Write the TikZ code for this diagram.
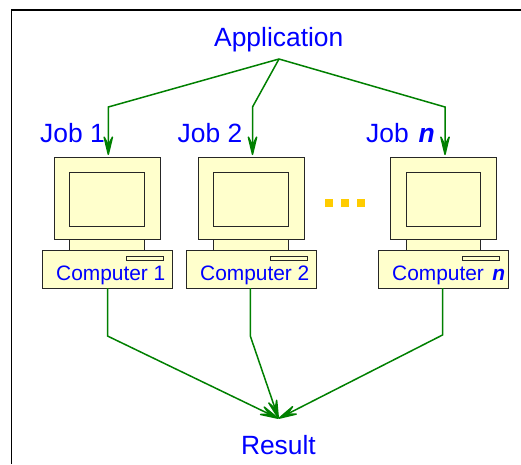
\documentclass[tikz,border=0pt]{standalone}
\usepackage{fontspec}
\setmainfont{Liberation Sans}
\usetikzlibrary{arrows.meta}
\definecolor{pale}{HTML}{FFFFCC}
\definecolor{wire}{HTML}{008000}
\definecolor{dotc}{HTML}{FFCC00}
\tikzset{
 part/.style={draw=black!85,fill=pale,line width=0.9pt,inner sep=0pt,outer sep=0pt,rectangle},
 big/.style={text=blue,font=\fontsize{26.4}{28}\selectfont,inner sep=0pt,anchor=base west},
 small/.style={text=blue,font=\fontsize{20.9}{23}\selectfont,inner sep=0pt,anchor=base west},
 wirel/.style={draw=wire,line width=1.5pt,line join=miter,-{Stealth[length=26pt,width=12.5pt,inset=12pt,round=false]}},
 dotsq/.style={fill=dotc,draw=none,minimum size=8pt,inner sep=0pt,rectangle},
}
\newcommand{\pc}[4]{% #1 suffix, #2 left of the base, #3 label, #4 label x
 \node[part,minimum width=74.3pt,minimum height=11.5pt] (neck#1) at (#2+65,244.5) {};
 \node[part,minimum width=106pt,minimum height=81.5pt] (mon#1) at (#2+65,198.5) {};
 \node[part,minimum width=74.3pt,minimum height=54pt] (scr#1) at (#2+65,199) {};
 \node[part,minimum width=130.4pt,minimum height=37.5pt] (base#1) at (#2+65.2,269.3) {};
 \node[part,minimum width=37.4pt,minimum height=4.6pt] (slot#1) at (#2+102.8,258.6) {};
 \node[small] (lab#1) at (#4,280.7) {#3};
}
\begin{document}
\begin{tikzpicture}[x=1pt,y=-1pt]
\useasboundingbox (0,0) rectangle (521,464);
\fill[white] (0,0) rectangle (521,464);
\coordinate (fa) at (11.5,464);
\coordinate (fb) at (11.5,10);
\coordinate (fc) at (521,10);
\draw[black,line width=1.6pt,line join=miter] (fa) -- (fb) -- (fc);
\pc{a}{42}{Computer 1}{56}
\pc{b}{186}{Computer 2}{200}
\pc{c}{378.3}{Computer\hspace{2.5pt} \textbf{\textit{n}}}{392}
\node[big] (app) at (214,46) {Application};
\node[big] (joba) at (40,142.5) {Job 1};
\node[big] (jobb) at (177.5,142.5) {Job 2};
\node[big] (jobc) at (366,142.5) {Job\hspace{2.5pt} \textbf{\textit{n}}};
\node[big] (res) at (240.8,454) {Result};
\node[dotsq] (d1) at (328.7,203) {};
\node[dotsq] (d2) at (345,203) {};
\node[dotsq] (d3) at (361,203) {};
\coordinate (top) at (279,59);
\coordinate (ka) at (108.3,107);
\coordinate (kb) at (252.5,107);
\coordinate (kc) at (445,107);
\coordinate (ia) at (108.3,155);
\coordinate (ib) at (252.5,155);
\coordinate (ic) at (445,155);
\coordinate (oa) at (107.5,288);
\coordinate (ob) at (250.3,288);
\coordinate (oc) at (442.5,288);
\coordinate (la) at (107.5,336);
\coordinate (lb) at (250.3,336);
\coordinate (lc) at (442.5,335);
\coordinate (end) at (278.5,418.5);
\draw[wirel] (top) -- (ka) -- (ia);
\draw[wirel] (top) -- (kb) -- (ib);
\draw[wirel] (top) -- (kc) -- (ic);
\draw[wirel] (oa) -- (la) -- (end);
\draw[wirel] (ob) -- (lb) -- (end);
\draw[wirel] (oc) -- (lc) -- (end);
\end{tikzpicture}
\end{document}
